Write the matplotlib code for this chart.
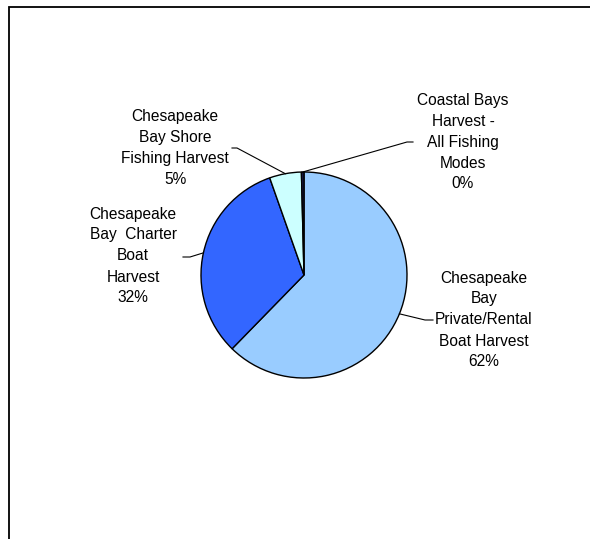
import matplotlib
matplotlib.use('Agg')
import matplotlib.pyplot as plt
import numpy as np

# data
labels = ['Chesapeake\nBay\nPrivate/Rental\nBoat Harvest',
          'Chesapeake\nBay  Charter\nBoat\nHarvest',
          'Chesapeake\nBay Shore\nFishing Harvest',
          'Coastal Bays\nHarvest -\nAll Fishing\nModes']
values = [62.3, 32.3, 5.0, 0.4]
colors = ['#99CCFF', '#3366FF', '#CCFFFF', '#1a1a4d']

# label layout in pixel space (x, y from top), elbow points of leader lines
W, H = 590, 539
label_pos = [(484, 320), (133, 256), (175, 148), (463, 142)]
elbow_pos = [((425, 320), (433, 320)),
             ((190, 257), (183, 257)),
             ((237, 148), (232, 148)),
             ((407, 142), (413, 142))]

plt.rcParams['font.family'] = ['Liberation Sans', 'DejaVu Sans']

fig = plt.figure(figsize=(W / 100, H / 100), dpi=100)
ax = fig.add_axes([0, 0, 1, 1])

cx, cy, r = 304, H - 275, 103
wedges, _ = ax.pie(values, colors=colors, startangle=90, counterclock=False,
                   center=(cx, cy), radius=r,
                   wedgeprops=dict(edgecolor='black', linewidth=1.0))

total = sum(values)
for w, lab, v, (lx, ly), (e1, e2) in zip(wedges, labels, values, label_pos, elbow_pos):
    ang = np.deg2rad((w.theta1 + w.theta2) / 2)
    px, py = cx + r * np.cos(ang), cy + r * np.sin(ang)
    ax.plot([px, e1[0], e2[0]], [py, H - e1[1], H - e2[1]], color='black', lw=0.8)
    pct = '%d%%' % round(v / total * 100)
    ax.text(lx, H - ly, lab + '\n' + pct, ha='center', va='center',
            fontsize=11.2, linespacing=1.5, color='black')

# chart area border (runs off the right and bottom edges)
ax.plot([8.5, 8.5, W + 5], [-5, H - 7, H - 7], color='black', lw=1.3,
        solid_joinstyle='miter')

ax.set_xlim(0, W)
ax.set_ylim(0, H)
ax.set_aspect('equal')
ax.axis('off')

fig.savefig('out.png', dpi=100)
